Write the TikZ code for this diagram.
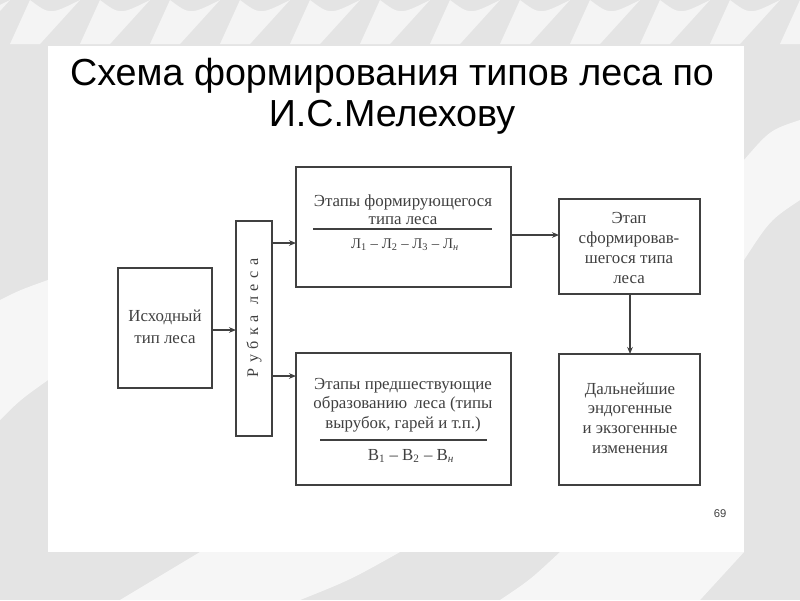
\documentclass[tikz,border=0pt]{standalone}
\usepackage{fontspec}
\setmainfont{Liberation Serif}
\newfontfamily\titlefont{Liberation Sans}
\usetikzlibrary{arrows.meta}
\definecolor{ink}{HTML}{404040}
\definecolor{bgray}{HTML}{E4E4E4}
\tikzset{
  box/.style={draw=ink, line width=0.8pt, text=ink, align=center, inner sep=0pt},
  txt/.style={text=ink, align=center, font=\fontsize{12}{14}\selectfont, inner sep=0pt},
  conn/.style={draw=ink, line width=0.8pt, -{Stealth[length=5pt,width=4pt]}},
  rule/.style={draw=ink, line width=0.8pt}
}
\begin{document}
\begin{tikzpicture}[x=0.025cm,y=-0.025cm]
\useasboundingbox (0,0) rectangle (800,600);
% background
\fill[bgray] (0,0) rectangle (800,600);
\fill[white] (48,46) rectangle (744,552);
\foreach \i in {0,...,12} {
  \fill[white,opacity=0.6] (\i*70-40,0) .. controls (\i*70-20,15) .. (\i*70+10,0) -- (\i*70-30,44) -- (\i*70-60,44) -- cycle;
}
\fill[white,opacity=0.7] (744,160) .. controls (770,130) .. (800,120) -- (800,200) .. controls (770,220) .. (744,260) -- cycle;
\fill[white,opacity=0.7] (0,300) .. controls (20,290) .. (48,280) -- (48,380) .. controls (20,400) .. (0,420) -- cycle;
\fill[white,opacity=0.7] (200,552) -- (400,552) .. controls (350,580) .. (300,600) -- (120,600) -- cycle;
\fill[white,opacity=0.7] (560,552) -- (744,552) -- (700,600) -- (500,600) .. controls (530,580) .. cycle;

% title
\node[font=\titlefont\fontsize{26.8}{30}\selectfont, text=black, inner sep=0pt] (t1) at (392,76) {Схема формирования типов леса по};
\node[font=\titlefont\fontsize{26.8}{30}\selectfont, text=black, inner sep=0pt] (t2) at (392,117) {И.С.Мелехову};

% boxes
\draw[box] (118,268) rectangle (212,388);
\node[txt, font=\fontsize{12}{16}\selectfont] (src) at (165,327) {Исходный\\тип леса};
\coordinate (srcE) at (212,330);

\draw[box] (236,221) rectangle (272,436);
\node[txt, rotate=90, font=\fontsize{11.5}{14}\selectfont] (cut) at (254,318) {Р\,\,у\,\,б\,\,к\,\,а\,\,\,\,л\,\,е\,\,с\,\,а};
\coordinate (cutW) at (236,330);
\coordinate (cutE1) at (272,243);
\coordinate (cutE2) at (272,376);

\draw[box] (296,167) rectangle (511,287);
\node[txt, font=\fontsize{12}{12.5}\selectfont] (top) at (403,210) {Этапы формирующегося\\типа леса};
\coordinate (r1a) at (313,229);
\coordinate (r1b) at (492,229);
\draw[rule] (r1a) -- (r1b);
\node[txt, font=\fontsize{10.5}{12}\selectfont] (f1) at (405,245) {Л\textsubscript{1} – Л\textsubscript{2} – Л\textsubscript{3} – Л\textsubscript{\textit{н}}};
\coordinate (topW) at (296,243);
\coordinate (topE) at (511,235);

\draw[box] (296,353) rectangle (511,485);
\node[txt] (bot) at (403,405) {Этапы предшествующие\\образованию\, леса (типы\\вырубок, гарей и т.п.)};
\coordinate (r2a) at (320,440);
\coordinate (r2b) at (487,440);
\draw[rule] (r2a) -- (r2b);
\node[txt] (f2) at (411,456) {В\textsubscript{1} – В\textsubscript{2} – В\textsubscript{\textit{н}}};
\coordinate (botW) at (296,376);

\draw[box] (559,199) rectangle (700,294);
\node[txt] (fin) at (629,248) {Этап\\сформировав-\\шегося типа\\леса};
\coordinate (finW) at (559,235);
\coordinate (finS) at (630,294);

\draw[box] (559,354) rectangle (700,485);
\node[txt] (fur) at (630,418) {Дальнейшие\\эндогенные\\и экзогенные\\изменения};
\coordinate (furN) at (630,354);

% connectors
\draw[conn] (srcE) -- (cutW);
\draw[conn] (cutE1) -- (topW);
\draw[conn] (cutE2) -- (botW);
\draw[conn] (topE) -- (finW);
\draw[conn] (finS) -- (furN);

\node[font=\titlefont\fontsize{8}{10}\selectfont, text=ink, inner sep=0pt] (pg) at (720,514) {69};
\end{tikzpicture}
\end{document}
